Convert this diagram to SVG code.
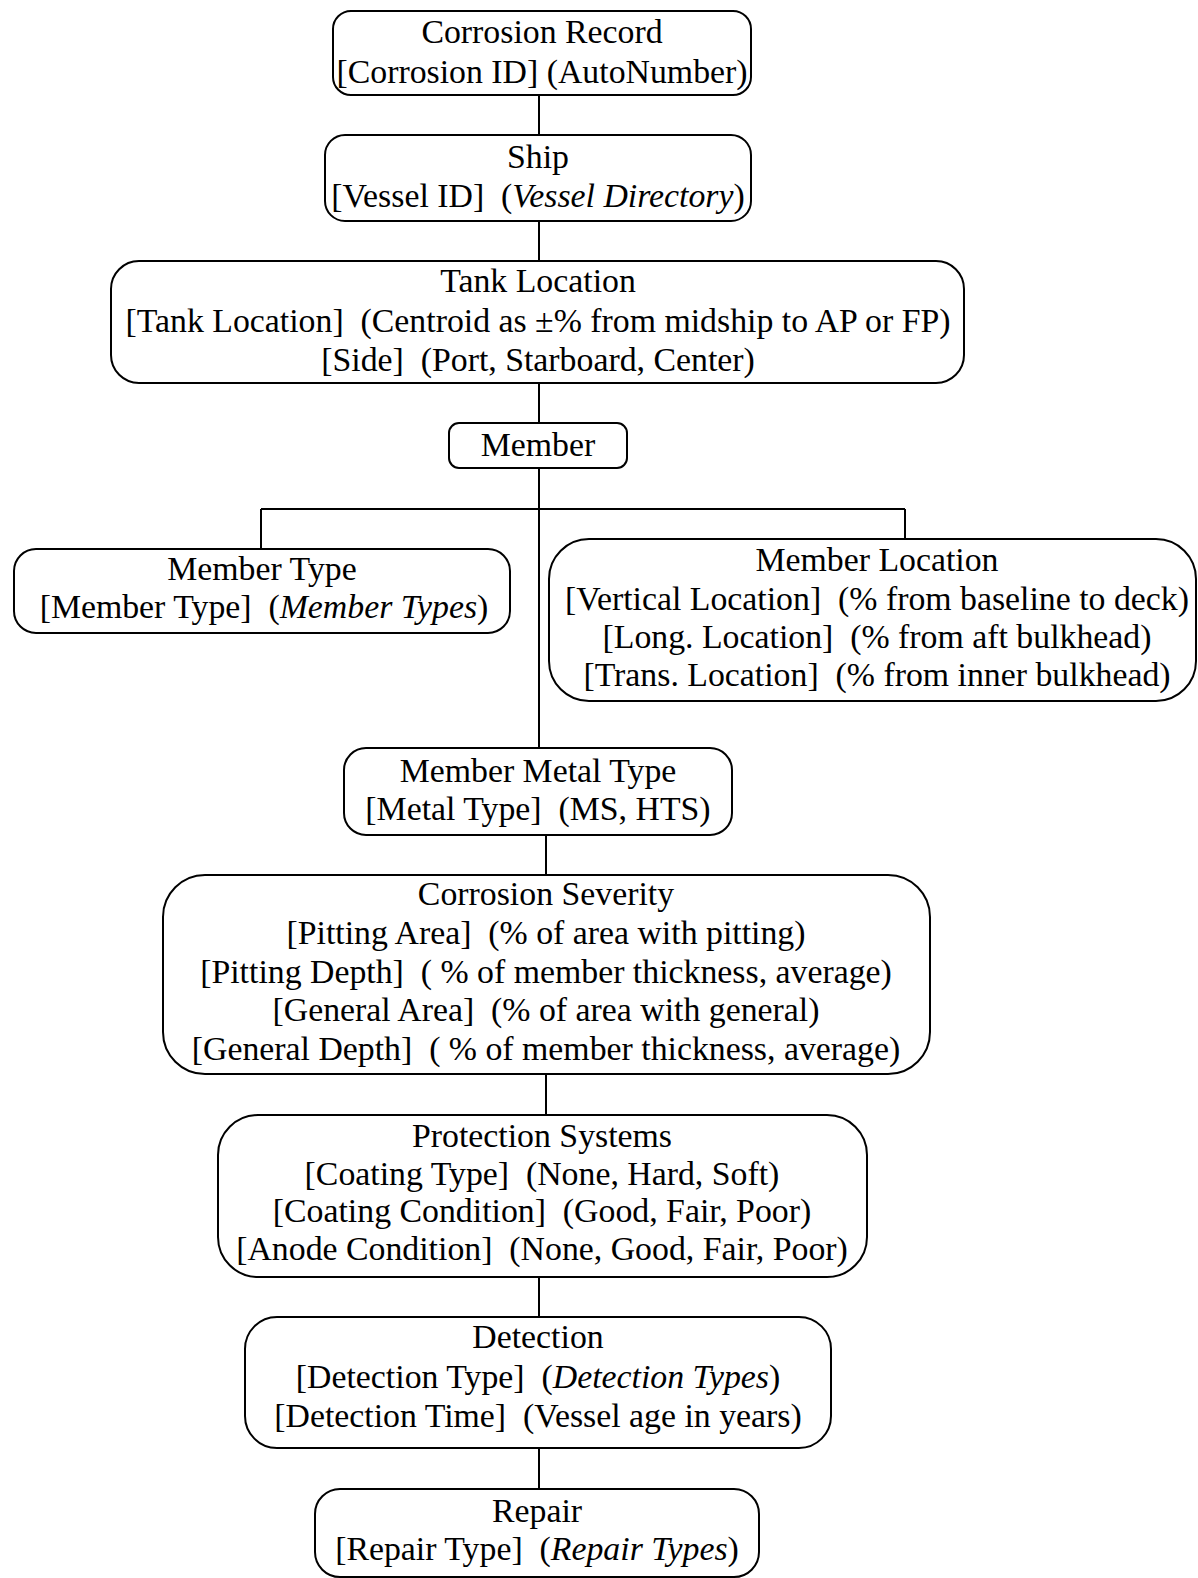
<svg xmlns="http://www.w3.org/2000/svg" width="1198" height="1578" viewBox="0 0 1198 1578">
<style>
.box{fill:#fff;stroke:#000;stroke-width:2}
.ln{fill:none;stroke:#000;stroke-width:2}
text{font-family:"Liberation Serif","Times New Roman",serif;font-size:33.8px;fill:#000;text-anchor:middle;white-space:pre}
.i{font-style:italic}
</style>
<rect width="1198" height="1578" fill="#fff"/>
<g id="connectors">
<path class="ln" d="M539 95V135M539 221V261M539 383V423M539 468V748M261 509H905M261 509V549M905 509V539M546 835V875M546 1074V1115M539 1277V1317M539 1448V1489"/>
</g>
<g id="corrosion-record">
<rect class="box" x="333" y="11" width="418" height="84" rx="18"/>
<text x="542" y="43">Corrosion Record</text>
<text x="542" y="83">[Corrosion ID] (AutoNumber)</text>
</g>
<g id="ship">
<rect class="box" x="325" y="135" width="426" height="86" rx="20"/>
<text x="538" y="168">Ship</text>
<text x="538" y="207" xml:space="preserve">[Vessel ID]  (<tspan class="i">Vessel Directory</tspan>)</text>
</g>
<g id="tank-location">
<rect class="box" x="111" y="261" width="853" height="122" rx="28"/>
<text x="538" y="292">Tank Location</text>
<text x="538" y="332" xml:space="preserve">[Tank Location]  (Centroid as ±% from midship to AP or FP)</text>
<text x="538" y="371" xml:space="preserve">[Side]  (Port, Starboard, Center)</text>
</g>
<g id="member">
<rect class="box" x="449" y="423" width="178" height="45" rx="10"/>
<text x="538" y="456">Member</text>
</g>
<g id="member-type">
<rect class="box" x="14" y="549" width="496" height="84" rx="22"/>
<text x="262" y="580">Member Type</text>
<text x="264" y="618" xml:space="preserve">[Member Type]  (<tspan class="i">Member Types</tspan>)</text>
</g>
<g id="member-location">
<rect class="box" x="549" y="539" width="647" height="162" rx="40"/>
<text x="877" y="571">Member Location</text>
<text x="877" y="610" xml:space="preserve">[Vertical Location]  (% from baseline to deck)</text>
<text x="877" y="648" xml:space="preserve">[Long. Location]  (% from aft bulkhead)</text>
<text x="877" y="686" xml:space="preserve">[Trans. Location]  (% from inner bulkhead)</text>
</g>
<g id="member-metal-type">
<rect class="box" x="344" y="748" width="388" height="87" rx="22"/>
<text x="538" y="782">Member Metal Type</text>
<text x="538" y="820" xml:space="preserve">[Metal Type]  (MS, HTS)</text>
</g>
<g id="corrosion-severity">
<rect class="box" x="163" y="875" width="767" height="199" rx="42"/>
<text x="546" y="905">Corrosion Severity</text>
<text x="546" y="944" xml:space="preserve">[Pitting Area]  (% of area with pitting)</text>
<text x="546" y="983" xml:space="preserve">[Pitting Depth]  ( % of member thickness, average)</text>
<text x="546" y="1021" xml:space="preserve">[General Area]  (% of area with general)</text>
<text x="546" y="1060" xml:space="preserve">[General Depth]  ( % of member thickness, average)</text>
</g>
<g id="protection-systems">
<rect class="box" x="218" y="1115" width="649" height="162" rx="40"/>
<text x="542" y="1147">Protection Systems</text>
<text x="542" y="1185" xml:space="preserve">[Coating Type]  (None, Hard, Soft)</text>
<text x="542" y="1222" xml:space="preserve">[Coating Condition]  (Good, Fair, Poor)</text>
<text x="542" y="1260" xml:space="preserve">[Anode Condition]  (None, Good, Fair, Poor)</text>
</g>
<g id="detection">
<rect class="box" x="245" y="1317" width="586" height="131" rx="32"/>
<text x="538" y="1348">Detection</text>
<text x="538" y="1388" xml:space="preserve">[Detection Type]  (<tspan class="i">Detection Types</tspan>)</text>
<text x="538" y="1427" xml:space="preserve">[Detection Time]  (Vessel age in years)</text>
</g>
<g id="repair">
<rect class="box" x="315" y="1489" width="444" height="88" rx="25"/>
<text x="537" y="1522">Repair</text>
<text x="537" y="1560" xml:space="preserve">[Repair Type]  (<tspan class="i">Repair Types</tspan>)</text>
</g>
</svg>
